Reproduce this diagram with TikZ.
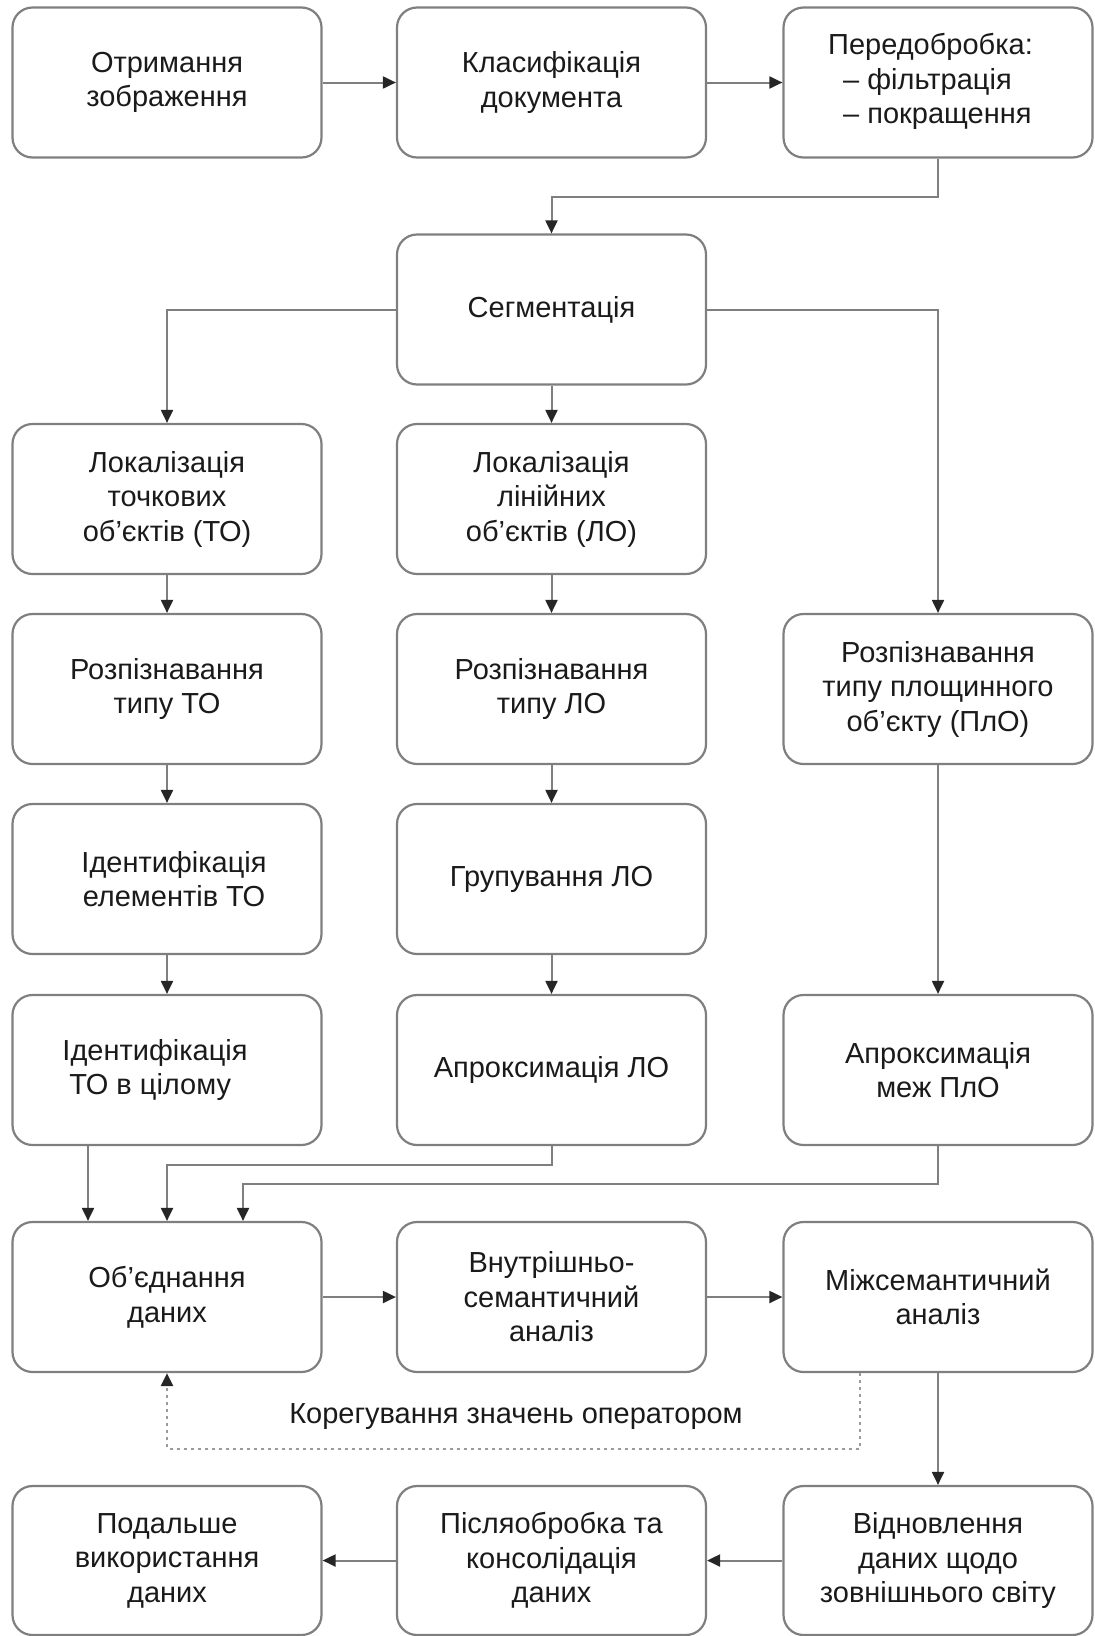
\documentclass[tikz,border=0pt]{standalone}
\usepackage{fontspec}
\setmainfont{Liberation Sans}
\usetikzlibrary{arrows.meta}
\definecolor{linegray}{HTML}{7F7F7F}
\definecolor{dotgray}{HTML}{9A9A9A}
\definecolor{txt}{HTML}{1A1A1A}
\begin{document}
\begin{tikzpicture}[x=1pt,y=-1pt,
  box/.style={draw=linegray, line width=2.2pt, rounded corners=20pt,
    minimum width=309pt, minimum height=150pt, inner sep=0pt,
    align=center, text=txt, font=\fontsize{29}{34.5}\selectfont},
  arr/.style={draw=linegray, line width=2pt,
    -{Triangle[length=13pt,width=12pt,color=black!85]}},
  fb/.style={draw=dotgray, line width=2.2pt, dash pattern=on 3pt off 4pt,
    -{Triangle[length=13pt,width=12pt,color=black!85]}},
  lbl/.style={text=txt, font=\fontsize{29}{34.5}\selectfont, inner sep=0pt}
]
\useasboundingbox (0,0) rectangle (1095,1636);

% row 1
\node[box] (a1) at (167,82.5) {Отримання\\зображення};
\node[box] (a2) at (551.5,82.5) {Класифікація\\документа};
\node[box] (a3) at (938,82.5) {\begin{tabular}{@{}l@{}}\hspace*{-15pt}Передобробка:\\– фільтрація\\– покращення\end{tabular}};
% segmentation
\node[box] (seg) at (551.5,309.5) {Сегментація};
% row 3
\node[box] (l1) at (167,499) {Локалізація\\точкових\\об’єктів (ТО)};
\node[box] (l2) at (551.5,499) {Локалізація\\лінійних\\об’єктів (ЛО)};
% row 4
\node[box] (r1) at (167,689) {Розпізнавання\\типу ТО};
\node[box] (r2) at (551.5,689) {Розпізнавання\\типу ЛО};
\node[box] (r3) at (938,689) {Розпізнавання\\типу площинного\\об’єкту (ПлО)};
% row 5
\node[box] (i1) at (167,879) {};
\node[lbl, align=center, xshift=7pt] (i1t) at (i1) {Ідентифікація\\елементів ТО};
\node[box] (g2) at (551.5,879) {Групування ЛО};
% row 6
\node[box] (t1) at (167,1070) {};
\node[lbl, align=left, xshift=-12pt] (t1t) at (t1) {Ідентифікація\\\hspace*{7pt}ТО в цілому};
\node[box] (p2) at (551.5,1070) {Апроксимація ЛО};
\node[box] (p3) at (938,1070) {Апроксимація\\меж ПлО};
% row 7
\node[box] (m1) at (167,1297) {Об’єднання\\даних};
\node[box] (m2) at (551.5,1297) {Внутрішньо-\\семантичний\\аналіз};
\node[box] (m3) at (938,1297) {Міжсемантичний\\аналіз};
% row 8
\node[box, minimum height=149pt] (f1) at (167,1560.5) {Подальше\\використання\\даних};
\node[box, minimum height=149pt] (f2) at (551.5,1560.5) {Післяобробка та\\консолідація\\даних};
\node[box, minimum height=149pt] (f3) at (938,1560.5) {Відновлення\\даних щодо\\зовнішнього світу};

% feedback label
\node[lbl] (fbl) at (516,1417) {Корегування значень оператором};

% connectors
\draw[arr] (a1) -- (a2);
\draw[arr] (a2) -- (a3);
\draw[arr] (a3.south) -- ++(0,38) -| (seg.north);
\draw[arr] (seg.west) -| (l1.north);
\draw[arr] (seg) -- (l2);
\draw[arr] (seg.east) -| (r3.north);
\draw[arr] (l1) -- (r1);
\draw[arr] (r1) -- (i1);
\draw[arr] (i1) -- (t1);
\draw[arr] (l2) -- (r2);
\draw[arr] (r2) -- (g2);
\draw[arr] (g2) -- (p2);
\draw[arr] (r3) -- (p3);
\draw[arr] ([xshift=-79pt]t1.south) -- ([xshift=-79pt]m1.north);
\draw[arr] (p2.south) -- ++(0,18.5) -| (m1.north);
\draw[arr] (p3.south) -- ++(0,37.5) -| ([xshift=76pt]m1.north);
\draw[arr] (m1) -- (m2);
\draw[arr] (m2) -- (m3);
\draw[arr] (m3) -- (f3);
\draw[arr] (f3) -- (f2);
\draw[arr] (f2) -- (f1);
\draw[fb] ([xshift=-78pt]m3.south) -- ++(0,75.5) -| (m1.south);
\end{tikzpicture}
\end{document}
